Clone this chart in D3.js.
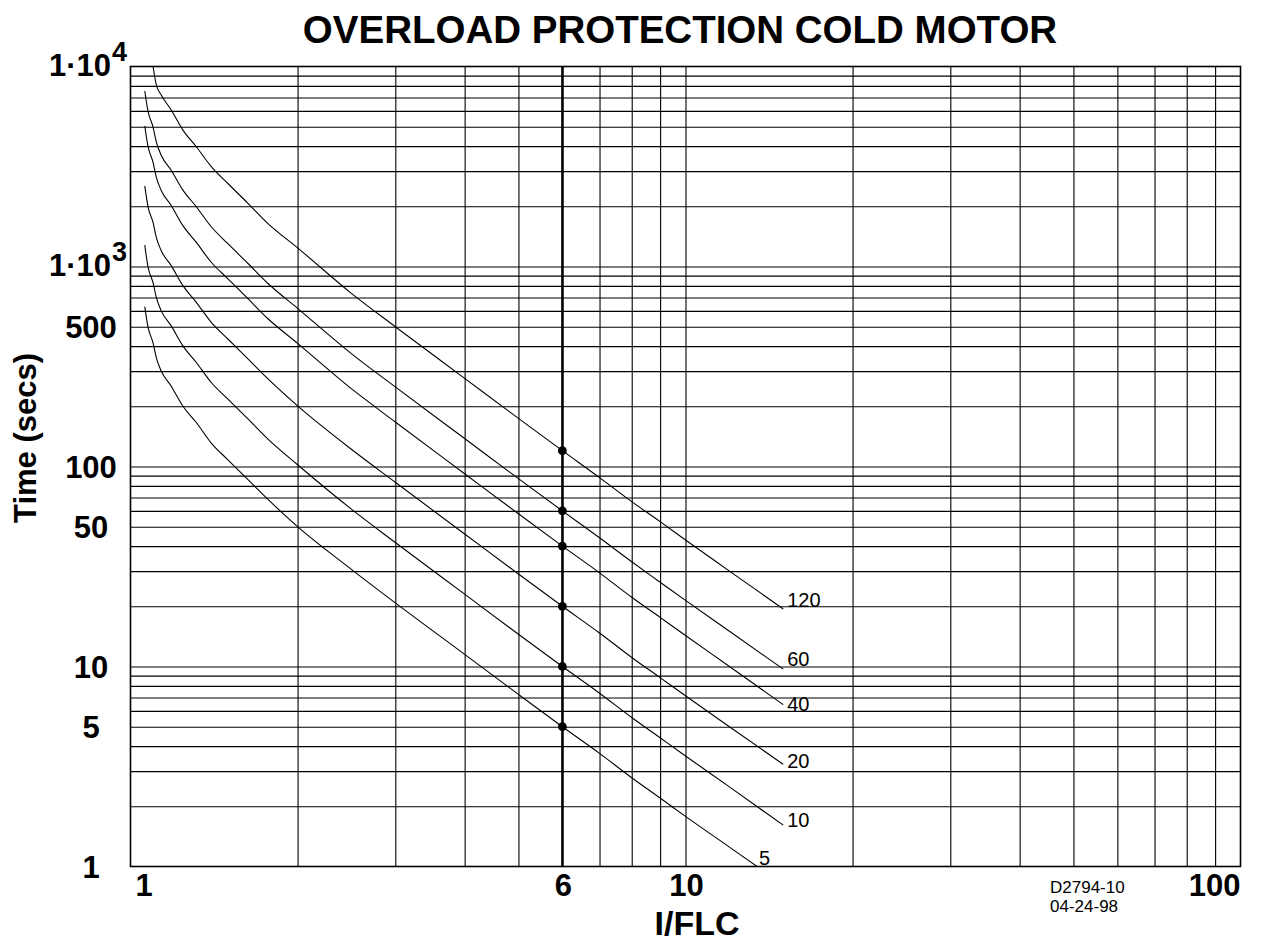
<!DOCTYPE html>
<html>
<head>
<meta charset="utf-8">
<script src="https://cdn.jsdelivr.net/npm/d3@7"></script>
<style>
  html, body { margin: 0; padding: 0; background: #fff; }
  svg { display: block; }
  text { font-family: "Liberation Sans", Arial, Helvetica, sans-serif; fill: #000; }
</style>
</head>
<body>
<svg id="chart" width="1270" height="943"></svg>
<script>
// ---------------- DATA ----------------
const chartTitle = "OVERLOAD PROTECTION COLD MOTOR";
const xTitle = "I/FLC";
const yTitle = "Time (secs)";
const drawingNo = ["D2794-10", "04-24-98"];

// multiples of full-load current at which the curves were read
const currentLong  = [1.061, 1.075, 1.098, 1.113, 1.136, 1.184, 1.243, 1.314, 1.398, 1.498, 1.628, 1.769, 2, 2.5, 3, 4, 5, 6, 7, 8, 9, 10, 12, 15];
const current120   = [1.098, 1.113, 1.136, 1.184, 1.243, 1.314, 1.398, 1.498, 1.628, 1.769, 2, 2.5, 3, 4, 5, 6, 7, 8, 9, 10, 12, 15];

// trip times (seconds) for each curve
const curve120 = [10000, 8100, 7200, 6060, 4810, 3970, 3160, 2600, 2070, 1640, 1240, 734, 500, 276, 174, 120, 88, 66.7, 53, 42.9, 30, 19.4];
const curve60  = [7540, 6000, 4980, 4200, 3600, 3030, 2410, 1990, 1580, 1300, 1035, 822, 618, 367, 250, 138, 87, 60, 44, 33.4, 26.4, 21.4, 15, 9.7];
const curve40  = [5040, 4000, 3320, 2800, 2400, 2020, 1600, 1320, 1050, 868, 690, 548, 413, 245, 167, 92, 58, 40, 29.4, 22.2, 17.6, 14.3, 10, 6.45];
const curve20  = [2530, 2000, 1660, 1400, 1200, 1010, 802, 662, 526, 434, 345, 274, 201, 122, 83.4, 46, 29, 20, 14.7, 11.1, 8.8, 7.14, 5, 3.24];
const curve10  = [1280, 1000, 830, 700, 600, 505, 401, 331, 263, 217, 173, 137, 102, 61.2, 41.7, 23, 14.5, 10, 7.35, 5.56, 4.4, 3.57, 2.5, 1.61];
const curve5   = [630, 500, 415, 350, 300, 252, 200, 166, 131, 108, 86, 68.5, 50, 30.6, 20.8, 11.5, 7.25, 5, 3.68, 2.78, 2.2, 1.78, 1.25, 0.81];

const curveNames = ["120", "60", "40", "20", "10", "5"];

// marked points on the 6 x FLC line
const markCurrent = 6;
const markTimes = [120, 60, 40, 20, 10, 5];

// axis ticks
const xTickValues = [1, 6, 10, 100];
const xTickLabels = ["1", "6", "10", "100"];
const yTickValues = [1, 5, 10, 50, 100, 500, 1000, 10000];
const yTickBase   = ["1", "5", "10", "50", "100", "500", "1\u00B710", "1\u00B710"];
const yTickExp    = ["", "", "", "", "", "", "3", "4"];

// grid lines
const xGrid = [2, 3, 4, 5, 6, 7, 8, 9, 10, 20, 30, 40, 50, 60, 70, 80, 90];
const yGrid = [2, 3, 4, 5, 6, 7, 8, 9, 10, 20, 30, 40, 50, 60, 70, 80, 90,
               100, 200, 300, 400, 500, 600, 700, 800, 900,
               1000, 2000, 3000, 4000, 5000, 6000, 7000, 8000, 9000];

// ---------------- LAYOUT / STYLE ----------------
const plot = { left: 130.5, right: 1240.5, top: 66.5, bottom: 866.5 };
const labelDx = [4, 4, 4, 4, 4, 2];
const labelDy = [-2, -3, 6, 4, 2, -2];
const xTickAnchor = ["start", "middle", "middle", "end"];
const xTickDx = [5, 1, 1, 0];

// ---------------- DRAW ----------------
const svg = d3.select("#chart");
const x = d3.scaleLog().domain([1, 100]).range([plot.left, plot.right]);
const y = d3.scaleLog().domain([1, 10000]).range([plot.bottom, plot.top]);
const W = plot.right - plot.left, H = plot.bottom - plot.top;

svg.append("defs").append("clipPath").attr("id", "clip")
  .append("rect").attr("x", plot.left).attr("y", plot.top).attr("width", W).attr("height", H);

// vertical grid via axis generator
svg.append("g")
  .attr("transform", `translate(0,${plot.bottom})`)
  .call(d3.axisBottom(x).tickValues(xGrid).tickSize(-H).tickFormat(""))
  .call(g => g.select(".domain").remove())
  .call(g => g.selectAll("line").attr("stroke", "#000").attr("stroke-width", 1.1));

// horizontal grid
svg.append("g")
  .attr("transform", `translate(${plot.left},0)`)
  .call(d3.axisLeft(y).tickValues(yGrid).tickSize(-W).tickFormat(""))
  .call(g => g.select(".domain").remove())
  .call(g => g.selectAll("line").attr("stroke", "#000").attr("stroke-width", 1.1));

// thick 6xFLC line
svg.append("line")
  .attr("x1", x(markCurrent)).attr("x2", x(markCurrent))
  .attr("y1", plot.top).attr("y2", plot.bottom)
  .attr("stroke", "#000").attr("stroke-width", 2.4);

// curves
const curves = [
  { name: curveNames[0], I: current120, t: curve120 },
  { name: curveNames[1], I: currentLong, t: curve60 },
  { name: curveNames[2], I: currentLong, t: curve40 },
  { name: curveNames[3], I: currentLong, t: curve20 },
  { name: curveNames[4], I: currentLong, t: curve10 },
  { name: curveNames[5], I: currentLong, t: curve5 }
];

const line = d3.line().x(d => x(d[0])).y(d => y(d[1])).curve(d3.curveMonotoneX);

const cg = svg.append("g").attr("clip-path", "url(#clip)");
curves.forEach(c => {
  const pts = c.I.map((v, i) => [v, c.t[i]]);
  cg.append("path").attr("d", line(pts))
    .attr("fill", "none").attr("stroke", "#000").attr("stroke-width", 1.1);
});

// curve labels
curves.forEach((c, i) => {
  let lx, ly;
  const lastI = c.I[c.I.length - 1], lastT = c.t[c.t.length - 1];
  if (lastT < 1) {
    const k = c.t.findIndex(v => v < 1);
    const i0 = c.I[k - 1], i1 = c.I[k], t0 = c.t[k - 1], t1 = c.t[k];
    const f = (Math.log(t0) - Math.log(1)) / (Math.log(t0) - Math.log(t1));
    const ie = Math.exp(Math.log(i0) + f * (Math.log(i1) - Math.log(i0)));
    lx = x(ie); ly = y(1);
  } else { lx = x(lastI); ly = y(lastT); }
  svg.append("text").attr("x", lx + labelDx[i]).attr("y", ly + labelDy[i])
    .attr("font-size", 20).text(c.name);
});

// dots
svg.append("g").selectAll("circle").data(markTimes).join("circle")
  .attr("cx", x(markCurrent)).attr("cy", d => y(d)).attr("r", 4.4).attr("fill", "#000");

// frame
svg.append("rect").attr("x", plot.left).attr("y", plot.top).attr("width", W).attr("height", H)
  .attr("fill", "none").attr("stroke", "#000").attr("stroke-width", 1.6);

// y tick labels
yTickValues.forEach((v, i) => {
  const t = svg.append("text")
    .attr("font-size", 31).attr("font-weight", "bold");
  if (yTickExp[i]) {
    t.attr("x", 49).attr("y", y(v) + 9).attr("text-anchor", "start");
    t.append("tspan").text(yTickBase[i]);
    t.append("tspan").attr("font-size", 27).attr("dy", -15).attr("dx", 1).text(yTickExp[i]);
  } else {
    t.attr("x", 91).attr("y", y(v) + 11).attr("text-anchor", "middle").text(yTickBase[i]);
  }
});

// x tick labels
xTickValues.forEach((v, i) => {
  svg.append("text")
    .attr("x", x(v) + xTickDx[i]).attr("y", 896)
    .attr("text-anchor", xTickAnchor[i])
    .attr("font-size", 31).attr("font-weight", "bold")
    .text(xTickLabels[i]);
});

// titles
svg.append("text").attr("x", 680).attr("y", 43).attr("text-anchor", "middle")
  .attr("font-size", 38.5).attr("font-weight", "bold").text(chartTitle);
svg.append("text").attr("x", 697).attr("y", 935).attr("text-anchor", "middle")
  .attr("font-size", 34).attr("font-weight", "bold").text(xTitle);
svg.append("text").attr("transform", "translate(36,438) rotate(-90)").attr("text-anchor", "middle")
  .attr("font-size", 31).attr("font-weight", "bold").text(yTitle);

// drawing number
drawingNo.forEach((s, i) => {
  svg.append("text").attr("x", 1050).attr("y", 893 + i * 19).attr("font-size", 17).text(s);
});
</script>
</body>
</html>
